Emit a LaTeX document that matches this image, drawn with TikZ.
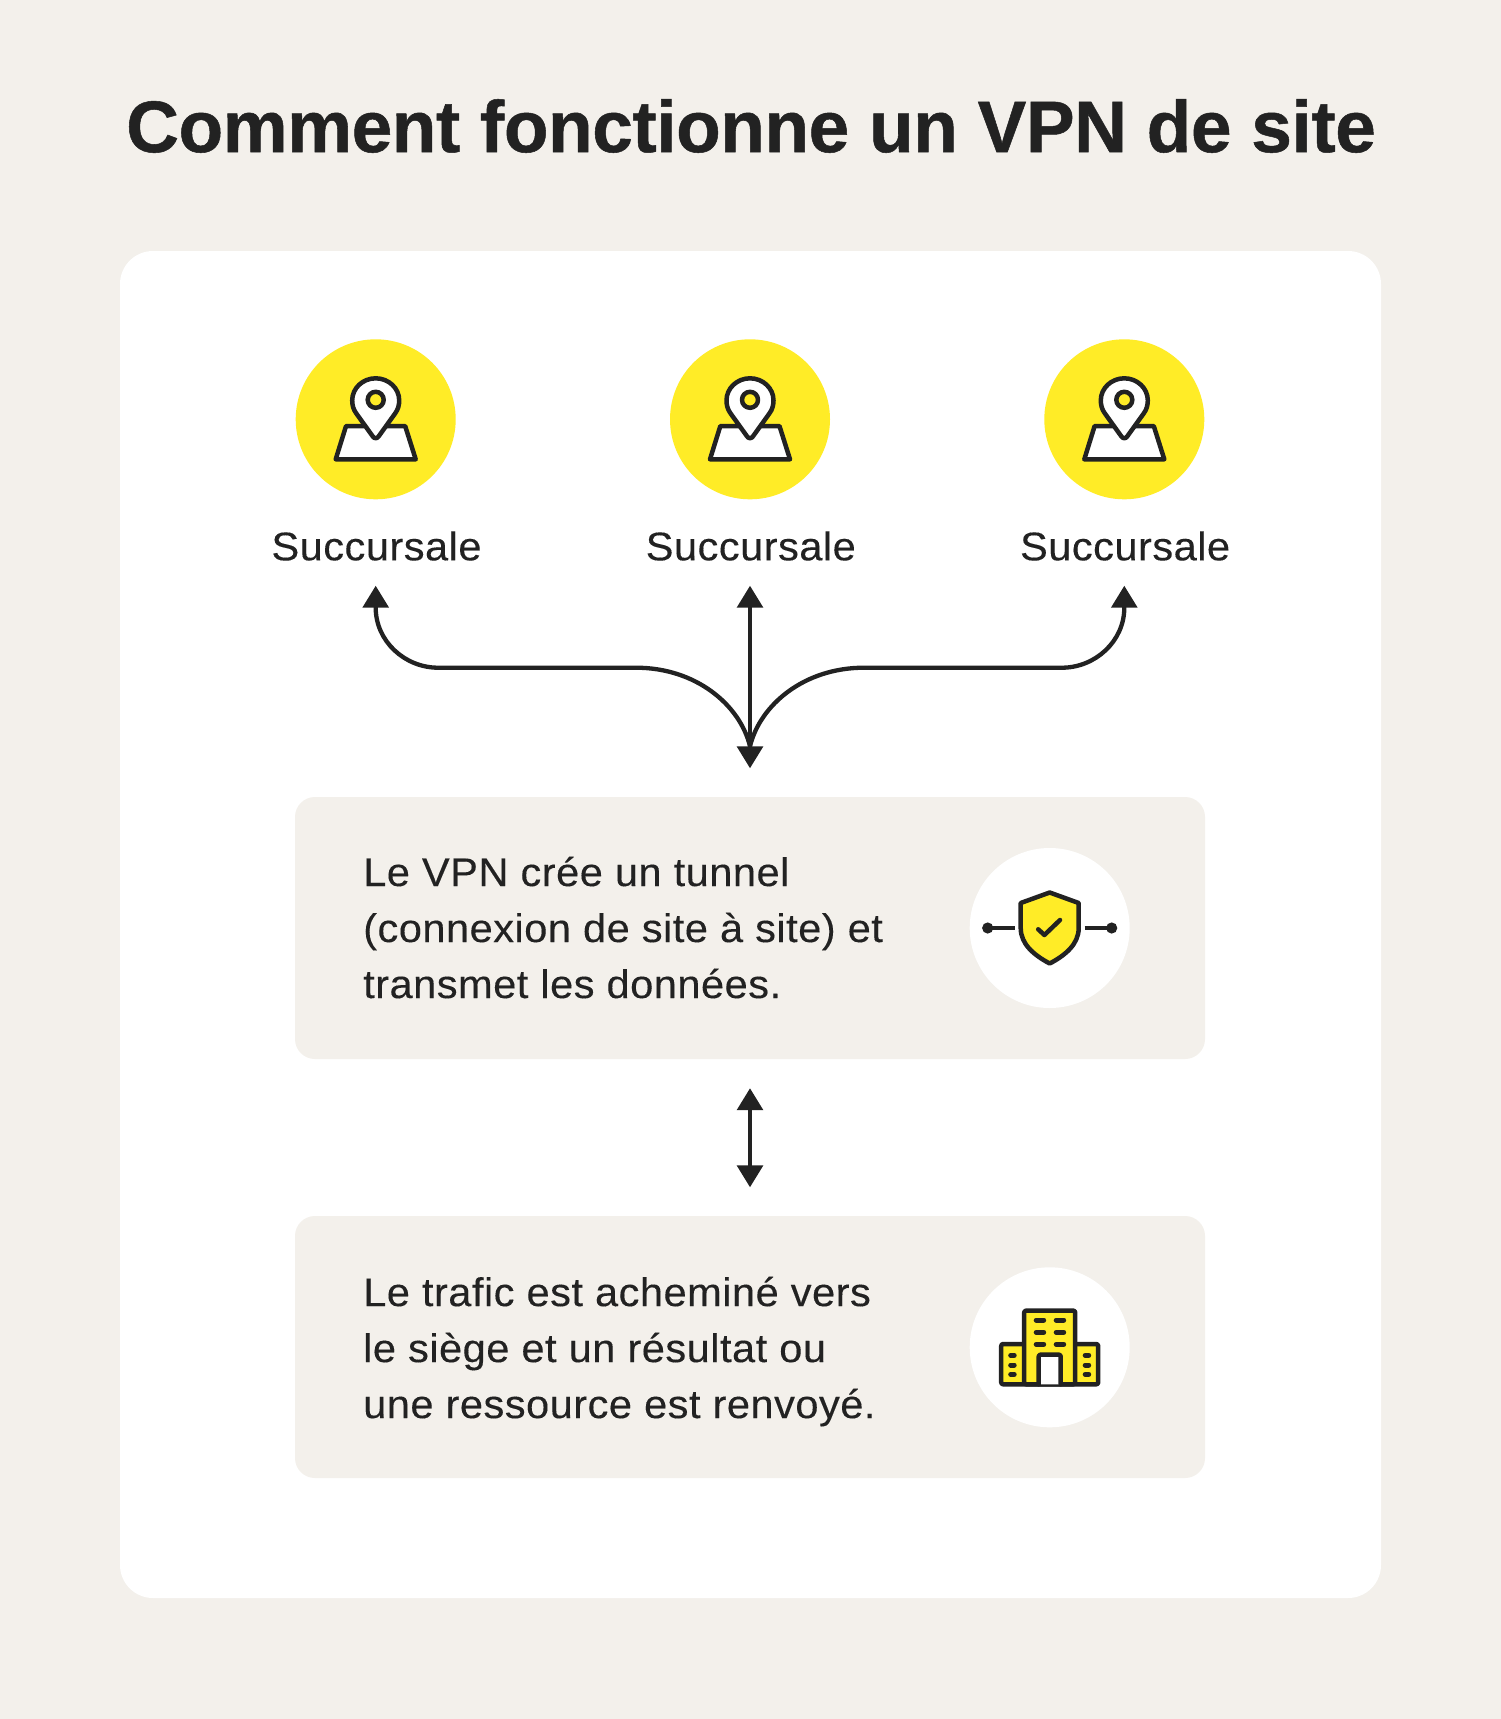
\documentclass[tikz,border=0pt]{standalone}
\usepackage{fontspec}
\setmainfont[FakeStretch=1.04,LetterSpace=1.2,FakeBold=0.2]{Liberation Sans}
\newfontfamily\titlefont[UprightFont=* Bold,FakeBold=0.7,LetterSpace=-0.6]{Liberation Sans}
\usetikzlibrary{arrows.meta}
\definecolor{ink}{HTML}{222222}
\definecolor{sun}{HTML}{FFEC27}
\definecolor{paper}{HTML}{F3F0EB}
\tikzset{
  x=1pt,y=-1pt,
  disc/.style={circle,inner sep=0pt,minimum size=160pt,draw=none},
  panel/.style={rectangle,rounded corners=20pt,fill=paper,minimum width=910pt,minimum height=262pt,inner sep=0pt},
  body/.style={anchor=west,align=left,inner sep=0pt,text=ink,font=\fontsize{40}{56}\selectfont},
  tag/.style={inner sep=0pt,minimum height=40pt,text=ink,font=\fontsize{40}{46}\selectfont},
  conn/.style={draw=ink,line width=4.3pt},
  icon/.style={draw=ink,line width=4.5pt,line join=round,line cap=round},
  winline/.style={draw=ink,line width=5pt,line cap=round},
}
\newcommand{\pinicon}[1]{%
  \begin{scope}[shift={(#1)}]
    \path[icon,fill=white] (-29.7,6.8) -- (29.5,6.8) -- (40,40) -- (-40,40) -- cycle;
    \path[icon,fill=white] (-19.5,-6) .. controls (-22.5,-10) and (-23.5,-14.5) .. (-23.5,-19)
      .. controls (-23.5,-31) and (-13,-41) .. (0,-41)
      .. controls (13,-41) and (23.5,-31) .. (23.5,-19)
      .. controls (23.5,-14.5) and (22.5,-10) .. (19.5,-6)
      -- (3,17) .. controls (1.5,19.5) and (-1.5,19.5) .. (-3,17) -- cycle;
    \path[icon,fill=sun] (0,-19.5) circle (8);
  \end{scope}}
\begin{document}
\begin{tikzpicture}
\useasboundingbox (0,0) rectangle (1501,1719);
\fill[paper] (0,0) rectangle (1501,1719);
\fill[white,rounded corners=33pt] (120,251) rectangle (1381,1598);
\node[inner sep=0pt,text=ink,font=\titlefont\fontsize{73}{80}\selectfont] (title) at (751,126) {Comment fonctionne un VPN de site};

\node[disc,fill=sun] (c1) at (375.7,419.3) {};
\node[disc,fill=sun] (c2) at (750,419.3) {};
\node[disc,fill=sun] (c3) at (1124.3,419.3) {};
\pinicon{c1}\pinicon{c2}\pinicon{c3}
\node[tag] (s1) at (376.5,546) {Succursale};
\node[tag] (s2) at (750.8,546) {Succursale};
\node[tag] (s3) at (1125.1,546) {Succursale};

\node[panel] (p1) at (750,928) {};
\node[panel] (p2) at (750,1347) {};
\node[body] (t1) at (363,927.5) {Le VPN crée un tunnel\\(connexion de site à site) et\\transmet les données.};
\node[body] (t2) at (363,1351.5) {Le trafic est acheminé vers\\le siège et un résultat ou\\une ressource est renvoyé.};
\node[disc,fill=white] (c4) at (1049.7,928) {};
\node[disc,fill=white] (c5) at (1049.7,1347.3) {};

% shield icon
\begin{scope}[shift={(c4)}]
  \path[icon,fill=sun] (0,-35.5) -- (29,-25) -- (29,0)
    .. controls (29,16) and (16,27) .. (0,35.5)
    .. controls (-16,27) and (-29,16) .. (-29,0) -- (-29,-25) -- cycle;
  \path[icon,fill=none] (-11.5,1.3) -- (-5.3,7) -- (10.3,-8);
  \draw[ink,line width=4.3pt] (-62,0) -- (-35,0);
  \draw[ink,line width=4.3pt] (35,0) -- (62,0);
  \fill[ink] (-62,0) circle (5.6);
  \fill[ink] (62,0) circle (5.6);
\end{scope}

% building icon
\begin{scope}[shift={(c5)}]
  \path[icon,fill=sun,rounded corners=2pt] (-48.5,-3.3) rectangle (48.5,37);
  \path[icon,fill=sun,rounded corners=2pt] (-25.5,-36.7) rectangle (25.5,37);
  \path[icon,fill=white,rounded corners=2pt] (-11,37) -- (-11,7.3) -- (11,7.3) -- (11,37);
  \foreach \r in {-27.3,-15,-3}{
    \draw[winline] (-13.5,\r) -- (-6,\r);
    \draw[winline] (6.5,\r) -- (14,\r);
  }
  \foreach \r in {8,17.7,27}{
    \draw[winline] (-39,\r) -- (-35.5,\r);
    \draw[winline] (35.5,\r) -- (39,\r);
  }
\end{scope}

% connectors
\coordinate (a1) at ([xshift=-0.8pt,yshift=-19.5pt]s1.south);
\coordinate (a2) at ([xshift=-0.8pt,yshift=-19.5pt]s2.south);
\coordinate (a3) at ([xshift=-0.8pt,yshift=-19.5pt]s3.south);
\coordinate (hub) at ([yshift=28.5pt]p1.north);
\coordinate (hubin) at ([yshift=22pt]hub);
\draw[conn,{Triangle[width=25.6pt,length=22pt]}-] (a1) -- ++(0,22) .. controls +(0,33.7) and (405,667.7) .. (438,667.7) -- (636,667.7) .. controls (696,667.7) and (740,705) .. (hubin);
\draw[conn,{Triangle[width=25.6pt,length=22pt]}-] (a3) -- ++(0,22) .. controls +(0,33.7) and (1095,667.7) .. (1062,667.7) -- (864,667.7) .. controls (804,667.7) and (760,705) .. (hubin);
\draw[conn,{Triangle[width=25.6pt,length=22pt]}-{Triangle[width=25.6pt,length=22pt]}] (a2) -- (hub);
\draw[conn,{Triangle[width=25.6pt,length=22pt]}-{Triangle[width=25.6pt,length=22pt]}] ([yshift=-29pt]p1.south) -- ([yshift=28.5pt]p2.north);
\end{tikzpicture}
\end{document}
